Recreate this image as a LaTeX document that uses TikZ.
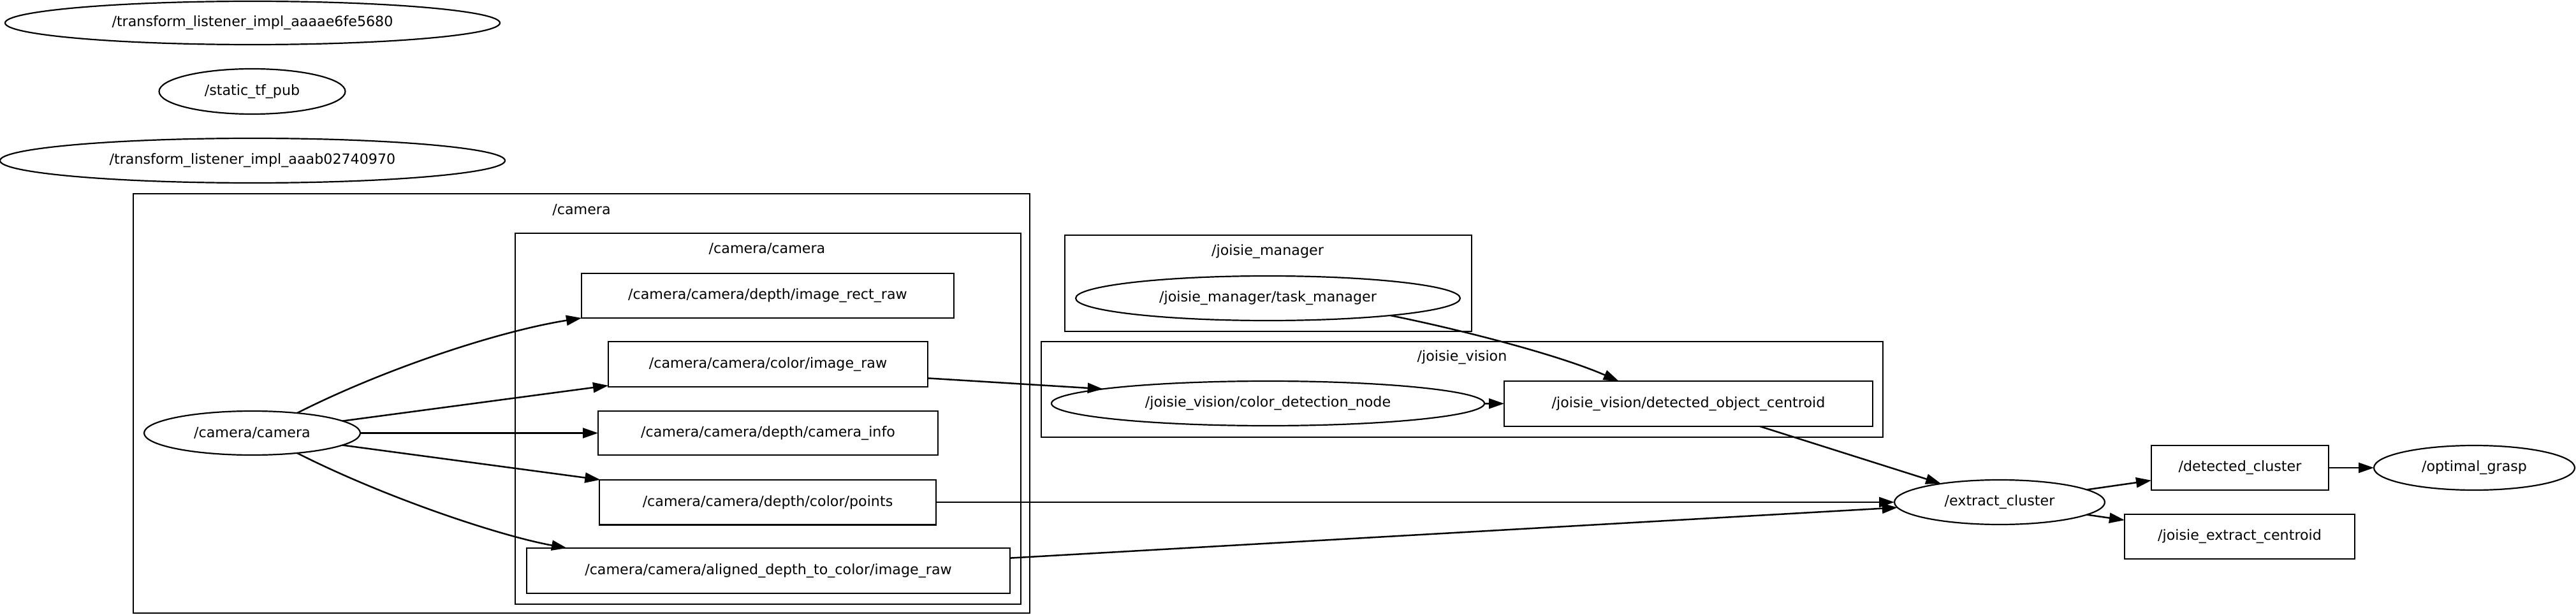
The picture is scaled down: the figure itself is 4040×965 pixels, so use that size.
\documentclass[tikz,border=0pt]{standalone}
\usepackage{fontspec}
\setmainfont{DejaVu Sans}
\usetikzlibrary{arrows.meta,shapes.geometric,calc}
\begin{document}
\begin{tikzpicture}[x=1pt,y=-1pt,
  every node/.style={font=\fontsize{22.2}{27}\selectfont, inner sep=0pt, outer sep=0pt},
  rosnode/.style n args={2}{draw, line width=2.2pt, ellipse, minimum width=#1, minimum height=#2},
  topic/.style n args={2}{draw, line width=2.5pt, rectangle, minimum width=#1, minimum height=#2},
  cluster/.style={draw, line width=2.2pt},
  edge/.style={line width=2.5pt, -{Triangle[length=24pt,width=16pt]}}
]
\useasboundingbox (0,0) rectangle (4040,965);

% clusters
\draw[cluster] (209,304) rectangle (1615,962);
\node (lcam) at (912,329) {/camera};
\draw[cluster] (808,366) rectangle (1601,948);
\node (lcamcam) at (1203,390) {/camera/camera};
\draw[cluster] (1670,369) rectangle (2308,520);
\node (ljm) at (1988,395) {/joisie\_manager};
\draw[cluster] (1633,536) rectangle (2953,686);
\node (ljv) at (2293,561) {/joisie\_vision};

% isolated nodes
\node[rosnode={776}{68}] (tl1) at (396,36) {/transform\_listener\_impl\_aaaae6fe5680};
\node[rosnode={292}{71}] (stp) at (395.5,143.5) {/static\_tf\_pub};
\node[rosnode={792}{70}] (tl2) at (396,252) {/transform\_listener\_impl\_aaab02740970};

% camera
\node[rosnode={339}{69}] (cc) at (395.5,679.5) {/camera/camera};
\node[topic={584}{70}] (rect) at (1204,464) {/camera/camera/depth/image\_rect\_raw};
\node[topic={501}{71}] (cir) at (1204.5,571.5) {/camera/camera/color/image\_raw};
\node[topic={533}{69}] (cinfo) at (1204.5,679.5) {/camera/camera/depth/camera\_info};
\node[topic={528}{70.5}] (pts) at (1204,788) {/camera/camera/depth/color/points};
\node[topic={758}{71}] (al) at (1205,895.5) {/camera/camera/aligned\_depth\_to\_color/image\_raw};

% joisie
\node[rosnode={603}{70}] (tm) at (1988.5,468) {/joisie\_manager/task\_manager};
\node[rosnode={679}{70}] (cdn) at (1988.5,633) {/joisie\_vision/color\_detection\_node};
\node[topic={578}{71}] (doc) at (2648,633.5) {/joisie\_vision/detected\_object\_centroid};

% right side
\node[rosnode={330}{70}] (ec) at (3136,788) {/extract\_cluster};
\node[topic={278}{70}] (dcl) at (3513,734) {/detected\_cluster};
\node[rosnode={315}{70}] (og) at (3880.5,734) {/optimal\_grasp};
\node[topic={361}{70}] (jec) at (3512.5,842) {/joisie\_extract\_centroid};

% edges
\draw[edge] (cc.24.7) .. controls (600,580) and (780,520) .. (rect.south west);
\draw[edge] (cc) -- (cir);
\draw[edge] (cc) -- (cinfo);
\draw[edge] (cc) -- (pts);
\draw[edge] (cc.-24.7) .. controls (600,779) and (780,840) .. ($(al.north west)+(63,0)$);
\draw[edge] (cir.-5.4) -- (cdn.175.8);
\draw[edge] (cdn) -- (doc);
\draw[edge] (tm.-8) .. controls (2280,515) and (2440,555) .. (doc.162.1);
\draw[edge] (doc) -- (ec);
\draw[edge] (pts) -- (ec);
\draw[edge] (al.3.4) -- (ec.183.2);
\draw[edge] (ec) -- (dcl);
\draw[edge] (ec) -- (jec);
\draw[edge] (dcl) -- (og);
\end{tikzpicture}
\end{document}
